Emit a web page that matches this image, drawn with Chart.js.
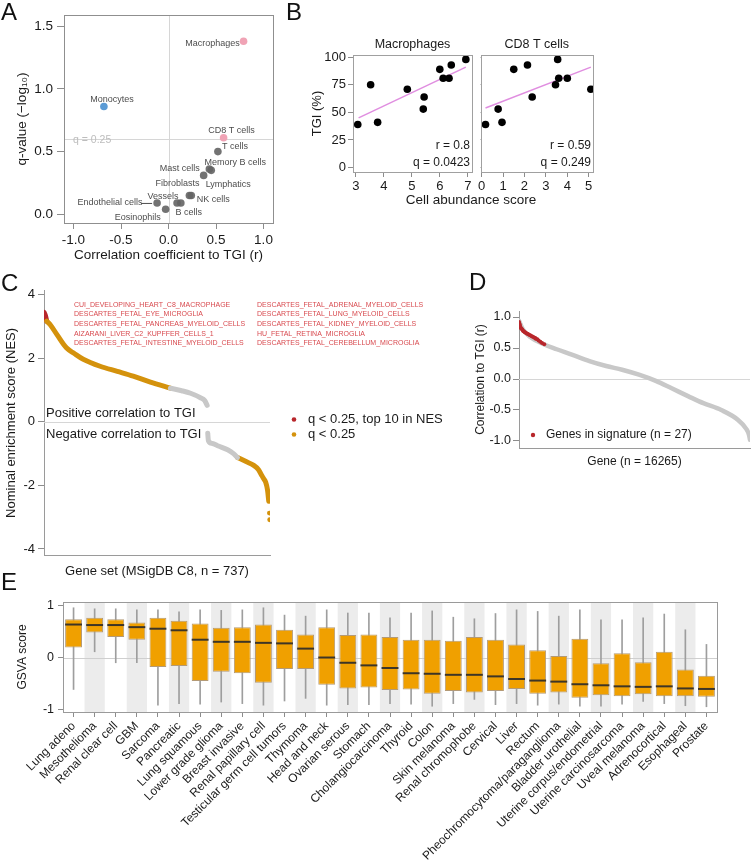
<!DOCTYPE html>
<html>
<head>
<meta charset="utf-8">
<script src="https://cdn.jsdelivr.net/npm/chart.js@4.4.0/dist/chart.umd.min.js"></script>
<style>
  body { margin: 0; background: #fff; font-family: "Liberation Sans", Arial, sans-serif; }
  #wrap { position: relative; width: 754px; height: 863px; overflow: hidden; background: #fff; }
  canvas { position: absolute; }
  .panel { position: absolute; font-size: 24px; line-height: 24px; color: #111; }
  .txt { position: absolute; font-size: 13.5px; color: #1a1a1a; white-space: nowrap; transform: translate(-50%, -50%); }
</style>
</head>
<body>
<div id="wrap">
  <canvas id="cA" style="left:0;top:0" width="285" height="265"></canvas>
  <canvas id="cB1" style="left:300px;top:25px" width="176" height="185"></canvas>
  <canvas id="cB2" style="left:476px;top:25px" width="125" height="185"></canvas>
  <canvas id="cC" style="left:0;top:280px" width="455" height="300"></canvas>
  <canvas id="cD" style="left:455px;top:290px" width="299" height="180"></canvas>
  <canvas id="cE" style="left:0;top:590px" width="754" height="273"></canvas>
  <div class="panel" style="left:1px;top:0px">A</div>
  <div class="panel" style="left:286px;top:0px">B</div>
  <div class="panel" style="left:1px;top:271px">C</div>
  <div class="panel" style="left:469px;top:270px">D</div>
  <div class="panel" style="left:1px;top:570px">E</div>
  <div class="txt" style="left:471px;top:199px">Cell abundance score</div>
</div>
<script>
// ---- A: cell types, correlation vs q-value
const cellTypes = ["Macrophages", "Monocytes", "CD8 T cells", "T cells", "Memory B cells", "Mast cells",
  "Lymphatics", "Fibroblasts", "NK cells", "Vessels", "B cells", "Endothelial cells", "Eosinophils"];
const cellR = [0.79, -0.68, 0.58, 0.52, 0.43, 0.37, 0.45, 0.22, 0.24, 0.09, 0.13, -0.12, -0.03];
const cellQ = [1.38, 0.86, 0.61, 0.50, 0.36, 0.31, 0.35, 0.15, 0.15, 0.09, 0.09, 0.09, 0.04];
const qCut = 0.602; // q = 0.25
const aXTicks = [-1, -0.5, 0, 0.5, 1];
const aYTicks = [0, 0.5, 1, 1.5];

// ---- B: TGI vs abundance
const macScore = [3.07, 3.53, 3.78, 4.84, 5.44, 5.41, 6.0, 6.12, 6.33, 6.41, 6.93];
const macTgi = [39, 75, 41, 71, 64, 53, 89, 81, 81, 93, 98];
const macFitX = [3.1, 6.93];
const macFitY = [45, 91];
const cd8Score = [0.18, 0.77, 0.95, 1.5, 2.14, 2.36, 3.45, 3.55, 3.6, 4.0, 5.1];
const cd8Tgi = [39, 53, 41, 89, 93, 64, 75, 98, 81, 81, 71];
const cd8FitX = [0.18, 5.1];
const cd8FitY = [54, 91];
const bYTicks = [0, 25, 50, 75, 100];
const macXTicks = [3, 4, 5, 6, 7];
const cd8XTicks = [0, 1, 2, 3, 4, 5];

// ---- C: NES of gene sets, [rank, NES]
const cTop10 = [[1, 3.45], [5, 3.36], [10, 3.17]];
const cPosSig = [[10, 3.17], [22, 3.05], [45, 2.72], [74, 2.33], [100, 2.15], [129, 1.97], [184, 1.75],
  [240, 1.59], [292, 1.44], [348, 1.25], [413, 1.06]];
const cPosNs = [[413, 1.06], [450, 0.98], [479, 0.9], [511, 0.76], [525, 0.67], [533, 0.52]];
const cNegNs = [[535, -0.36], [537, -0.59], [550, -0.68], [567, -0.75], [600, -0.88], [619, -1.0], [632, -1.12]];
const cNegSig = [[632, -1.12], [660, -1.25], [685, -1.37], [700, -1.5], [708, -1.63], [716, -1.77],
  [724, -1.9], [730, -2.15], [734, -2.5]];
const cNegTail = [[736, -2.87], [737, -3.08]];
const cTopSets = [
  "CUI_DEVELOPING_HEART_C8_MACROPHAGE", "DESCARTES_FETAL_EYE_MICROGLIA", "DESCARTES_FETAL_PANCREAS_MYELOID_CELLS",
  "AIZARANI_LIVER_C2_KUPFFER_CELLS_1", "DESCARTES_FETAL_INTESTINE_MYELOID_CELLS",
  "DESCARTES_FETAL_ADRENAL_MYELOID_CELLS", "DESCARTES_FETAL_LUNG_MYELOID_CELLS", "DESCARTES_FETAL_KIDNEY_MYELOID_CELLS",
  "HU_FETAL_RETINA_MICROGLIA", "DESCARTES_FETAL_CEREBELLUM_MICROGLIA"];
const cYTicks = [-4, -2, 0, 2, 4];

// ---- D: gene correlation to TGI, [rank, r]
const dCurve = [[1, 0.94], [280, 0.8], [770, 0.68], [1745, 0.56], [2653, 0.48], [3770, 0.39], [4957, 0.29],
  [6143, 0.21], [7260, 0.15], [8447, 0.07], [9633, -0.03], [10750, -0.15], [11936, -0.28], [12983, -0.39],
  [14240, -0.5], [15427, -0.66], [15985, -0.8], [16195, -0.9], [16265, -0.98]];
const dSignature = [[3, 0.92], [20, 0.9], [45, 0.88], [70, 0.86], [100, 0.84], [140, 0.82], [180, 0.81],
  [230, 0.8], [280, 0.78], [330, 0.77], [390, 0.76], [450, 0.75], [520, 0.74], [590, 0.73], [660, 0.72],
  [740, 0.71], [820, 0.7], [900, 0.69], [980, 0.68], [1060, 0.67], [1150, 0.66], [1180, 0.65], [1290, 0.64],
  [1380, 0.62], [1500, 0.6], [1620, 0.58], [1780, 0.56]];
const dYTicks = [-1, -0.5, 0, 0.5, 1];

// ---- E: GSVA score by cancer type
const eTypes = ["Lung adeno", "Mesothelioma", "Renal clear cell", "GBM", "Sarcoma", "Pancreatic", "Lung squamous",
  "Lower grade glioma", "Breast invasive", "Renal papillary cell", "Testicular germ cell tumors", "Thymoma",
  "Head and neck", "Ovarian serous", "Stomach", "Cholangiocarcinoma", "Thyroid", "Colon", "Skin melanoma",
  "Renal chromophobe", "Cervical", "Liver", "Rectum", "Pheochromocytoma/paraganglioma", "Bladder urothelial",
  "Uterine corpus/endometrial", "Uterine carcinosarcoma", "Uveal melanoma", "Adrenocortical", "Esophageal", "Prostate"];
const eWhiskHi = [0.95, 0.93, 0.93, 0.91, 0.91, 0.87, 0.91, 0.90, 0.91, 0.95, 0.81, 0.79, 0.91, 0.85, 0.85, 0.76,
  0.85, 0.89, 0.77, 0.74, 0.84, 0.91, 0.88, 0.79, 0.91, 0.72, 0.72, 0.76, 0.83, 0.53, 0.25];
const eQ3 = [0.73, 0.76, 0.73, 0.67, 0.76, 0.70, 0.65, 0.57, 0.58, 0.63, 0.53, 0.44, 0.58, 0.43, 0.44, 0.39,
  0.34, 0.34, 0.32, 0.39, 0.34, 0.25, 0.14, 0.03, 0.36, -0.11, 0.08, -0.09, 0.11, -0.23, -0.35];
const eMed = [0.63, 0.62, 0.62, 0.58, 0.55, 0.52, 0.34, 0.30, 0.30, 0.28, 0.27, 0.17, 0.00, -0.10, -0.15, -0.20,
  -0.30, -0.31, -0.33, -0.33, -0.36, -0.41, -0.44, -0.46, -0.51, -0.53, -0.55, -0.56, -0.55, -0.59, -0.60];
const eQ1 = [0.19, 0.48, 0.39, 0.34, -0.18, -0.16, -0.45, -0.27, -0.30, -0.48, -0.22, -0.22, -0.52, -0.59, -0.57,
  -0.62, -0.61, -0.69, -0.64, -0.67, -0.64, -0.60, -0.69, -0.67, -0.77, -0.72, -0.74, -0.70, -0.74, -0.74, -0.75];
const eWhiskLo = [-0.61, 0.11, -0.10, -0.10, -0.91, -0.88, -0.89, -0.85, -0.88, -0.91, -0.83, -0.78, -0.91, -0.90,
  -0.90, -0.88, -0.89, -0.93, -0.88, -0.80, -0.90, -0.88, -0.91, -0.89, -0.93, -0.93, -0.89, -0.84, -0.88, -0.92, -0.94];
const eYTicks = [-1, 0, 1];

Chart.defaults.font.family = "'Liberation Sans', Arial, sans-serif";
Chart.defaults.color = '#1a1a1a';
Chart.defaults.animation = false;
Chart.defaults.plugins.legend.display = false;
Chart.defaults.plugins.tooltip.enabled = false;

const GRID = '#8c8c8c';
const ORANGE = '#d4920c';
const RED = '#b8262b';
const LIGHT = '#c8c8c8';
const FONT = "'Liberation Sans', Arial";

const pairs = arr => arr.map(p => ({ x: p[0], y: p[1] }));
const setTicks = vals => s => { s.ticks = vals.map(v => ({ value: v })); };

function hline(ctx, x1, y1, x2, y2) {
  ctx.beginPath(); ctx.moveTo(x1, y1); ctx.lineTo(x2, y2); ctx.stroke();
}
function frame(chart, color) {
  const { ctx, chartArea: a } = chart;
  ctx.save();
  ctx.strokeStyle = color || '#999';
  ctx.lineWidth = 1;
  ctx.strokeRect(Math.round(a.left) + 0.5, Math.round(a.top) + 0.5, Math.round(a.width), Math.round(a.height));
  ctx.restore();
}

// ---------------- A ----------------
const aLabelOffset = [[-31, 2], [8, -7], [8, -7], [17, -5], [26, -7], [-24, -7], [17, 14], [-12, -12],
  [22, 4], [-14, -6], [8, 10], [-47, 0], [-28, 8]];

new Chart(document.getElementById('cA'), {
  type: 'scatter',
  data: {
    datasets: [{
      data: cellTypes.map((n, i) => ({ x: cellR[i], y: cellQ[i] })),
      pointRadius: 3.8,
      pointBorderWidth: 0,
      pointBackgroundColor: cellTypes.map((n, i) =>
        cellQ[i] > qCut ? (cellR[i] > 0 ? '#f0a3b5' : '#5b9bd5') : 'rgba(100,100,100,0.9)')
    }]
  },
  options: {
    responsive: false,
    layout: { padding: { left: 0, top: 15, right: 12, bottom: 0 } },
    scales: {
      x: {
        min: -1.1, max: 1.1,
        afterFit: s => { s.height = 42; },
        afterBuildTicks: setTicks(aXTicks),
        ticks: { callback: v => v.toFixed(1), font: { size: 13.5 }, padding: 3, maxRotation: 0 },
        grid: { drawOnChartArea: false, tickLength: 6, color: GRID },
        border: { display: false },
        title: { display: true, text: 'Correlation coefficient to TGI (r)', font: { size: 13.5 }, padding: { bottom: 2 } }
      },
      y: {
        min: -0.07, max: 1.59,
        afterFit: s => { s.width = 64; },
        afterBuildTicks: setTicks(aYTicks),
        ticks: { callback: v => v.toFixed(1), font: { size: 13.5 }, padding: 4 },
        grid: { drawOnChartArea: false, tickLength: 7, color: GRID },
        border: { display: false },
        title: { display: true, text: 'q-value (\u2212log\u2081\u2080)', font: { size: 13.5 }, padding: { top: 14 } }
      }
    }
  },
  plugins: [{
    id: 'aExtras',
    beforeDatasetsDraw(chart) {
      const { ctx, chartArea: a, scales: { x, y } } = chart;
      const x0 = x.getPixelForValue(0), yq = y.getPixelForValue(qCut);
      ctx.save();
      ctx.strokeStyle = '#d6d6d6'; ctx.lineWidth = 1;
      hline(ctx, Math.round(x0) + 0.5, a.top, Math.round(x0) + 0.5, a.bottom);
      hline(ctx, a.left, Math.round(yq) + 0.5, a.right, Math.round(yq) + 0.5);
      ctx.fillStyle = '#bdbdbd'; ctx.font = "10.5px " + FONT;
      ctx.textBaseline = 'middle';
      ctx.fillText('q = 0.25', a.left + 9, yq + 1);
      ctx.restore();
    },
    afterDatasetsDraw(chart) {
      const { ctx, scales: { x, y } } = chart;
      ctx.save();
      ctx.fillStyle = '#4d4d4d'; ctx.strokeStyle = '#4d4d4d'; ctx.lineWidth = 1;
      ctx.font = "9px " + FONT;
      ctx.textAlign = 'center'; ctx.textBaseline = 'middle';
      cellTypes.forEach((n, i) => {
        const px = x.getPixelForValue(cellR[i]), py = y.getPixelForValue(cellQ[i]);
        const [dx, dy] = aLabelOffset[i];
        ctx.fillText(n, px + dx, py + dy);
        if (n === 'Endothelial cells') hline(ctx, px + dx + 31, py + 0.5, px - 5, py + 0.5);
      });
      ctx.restore();
    },
    afterDraw(chart) { frame(chart, '#8f8f8f'); }
  }]
});

// ---------------- B ----------------
function makeB(id, scores, tgis, fitX, fitY, xMin, xMax, xTicks, title, rText, qText, first) {
  new Chart(document.getElementById(id), {
    type: 'scatter',
    data: {
      datasets: [
        { data: scores.map((s, i) => ({ x: s, y: tgis[i] })), pointRadius: 3.8, pointBorderWidth: 0,
          pointBackgroundColor: '#000', order: 1 },
        { data: fitX.map((s, i) => ({ x: s, y: fitY[i] })), showLine: true, pointRadius: 0,
          borderColor: '#e08ee0', borderWidth: 1.5, order: 2 }
      ]
    },
    options: {
      responsive: false,
      layout: { padding: { left: 0, top: 30, right: first ? 3 : 8, bottom: 0 } },
      scales: {
        x: {
          min: xMin, max: xMax,
          afterFit: s => { s.height = 38; },
          afterBuildTicks: setTicks(xTicks),
          ticks: { font: { size: 13 }, padding: 2, maxRotation: 0 },
          grid: { drawOnChartArea: false, tickLength: 5, color: GRID },
          border: { display: false }
        },
        y: {
          min: -4, max: 102,
          afterFit: s => { s.width = first ? 53 : 2; },
          afterBuildTicks: setTicks(bYTicks),
          ticks: { display: first, font: { size: 13 }, padding: 2 },
          grid: { drawOnChartArea: false, tickLength: first ? 5 : 0, color: GRID },
          border: { display: false },
          title: { display: first, text: 'TGI (%)', font: { size: 13 }, padding: { top: 10 } }
        }
      }
    },
    plugins: [{
      id: 'bExtras',
      afterDraw(chart) {
        const { ctx, chartArea: a } = chart;
        frame(chart, '#a0a0a0');
        ctx.save();
        ctx.fillStyle = '#1a1a1a';
        ctx.font = "12.5px " + FONT;
        ctx.textAlign = 'center'; ctx.textBaseline = 'middle';
        ctx.fillText(title, (a.left + a.right) / 2, a.top - 10);
        ctx.font = "12px " + FONT;
        ctx.textAlign = 'right';
        ctx.fillText(rText, a.right - 2, a.bottom - 26);
        ctx.fillText(qText, a.right - 2, a.bottom - 9);
        ctx.restore();
      }
    }]
  });
}
makeB('cB1', macScore, macTgi, macFitX, macFitY, 2.9, 7.15, macXTicks, 'Macrophages', 'r = 0.8', 'q = 0.0423', true);
makeB('cB2', cd8Score, cd8Tgi, cd8FitX, cd8FitY, -0.05, 5.2, cd8XTicks, 'CD8 T cells', 'r = 0.59', 'q = 0.249', false);

// ---------------- C ----------------
const curve = (arr, color, width) => ({
  data: pairs(arr), showLine: true, pointRadius: 0, borderColor: color, borderWidth: width,
  borderCapStyle: 'round', borderJoinStyle: 'round', cubicInterpolationMode: 'monotone'
});

new Chart(document.getElementById('cC'), {
  type: 'scatter',
  data: {
    datasets: [
      curve(cPosNs, LIGHT, 5), curve(cNegNs, LIGHT, 5),
      curve(cPosSig, ORANGE, 5), curve(cNegSig, ORANGE, 5),
      { data: pairs(cNegTail), pointRadius: 2.4, pointBorderWidth: 0, pointBackgroundColor: ORANGE },
      curve(cTop10, RED, 5)
    ]
  },
  options: {
    responsive: false,
    layout: { padding: { left: 0, top: 9, right: 185, bottom: 0 } },
    scales: {
      x: {
        min: 1, max: 738,
        afterFit: s => { s.height = 25; },
        ticks: { display: false },
        grid: { display: false },
        border: { display: true, color: '#9a9a9a' },
        title: { display: true, text: 'Gene set (MSigDB C8, n = 737)', font: { size: 13 }, padding: { bottom: 1 } }
      },
      y: {
        min: -4.19, max: 4.125,
        afterFit: s => { s.width = 44; },
        afterBuildTicks: setTicks(cYTicks),
        ticks: { font: { size: 13 }, padding: 3 },
        grid: { drawOnChartArea: false, tickLength: 6, color: GRID },
        border: { display: true, color: '#9a9a9a' },
        title: { display: true, text: 'Nominal enrichment score (NES)', font: { size: 13 }, padding: { top: 4 } }
      }
    }
  },
  plugins: [{
    id: 'cExtras',
    beforeDatasetsDraw(chart) {
      const { ctx, chartArea: a, scales: { y } } = chart;
      const y0 = Math.round(y.getPixelForValue(0)) + 0.5;
      ctx.save();
      ctx.strokeStyle = '#d6d6d6'; ctx.lineWidth = 1;
      hline(ctx, a.left, y0, a.right, y0);
      ctx.fillStyle = '#1a1a1a';
      ctx.font = "13px " + FONT;
      ctx.textBaseline = 'middle';
      ctx.fillText('Positive correlation to TGI', a.left + 2, y0 - 9);
      ctx.fillText('Negative correlation to TGI', a.left + 2, y0 + 12);
      // legend
      ctx.fillText('q < 0.25, top 10 in NES', a.right + 38, y0 - 3);
      ctx.fillText('q < 0.25', a.right + 38, y0 + 12);
      ctx.fillStyle = RED;
      ctx.beginPath(); ctx.arc(a.right + 24, y0 - 3, 2.3, 0, Math.PI * 2); ctx.fill();
      ctx.fillStyle = ORANGE;
      ctx.beginPath(); ctx.arc(a.right + 24, y0 + 12, 2.3, 0, Math.PI * 2); ctx.fill();
      // top gene set names
      ctx.fillStyle = '#d84a4f';
      ctx.font = "7px " + FONT;
      cTopSets.forEach((s, i) => {
        const col = i < 5 ? 0 : 1, row = i % 5;
        ctx.fillText(s, a.left + (col ? 213 : 30), a.top + 14 + row * 9.6);
      });
      ctx.restore();
    }
  }]
});

// ---------------- D ----------------
new Chart(document.getElementById('cD'), {
  type: 'scatter',
  data: {
    datasets: [
      { data: pairs(dSignature), pointRadius: 2, pointBorderWidth: 0, pointBackgroundColor: RED, order: 1 },
      Object.assign(curve(dCurve, LIGHT, 4.5), { order: 2 })
    ]
  },
  options: {
    responsive: false,
    layout: { padding: { left: 0, top: 21, right: 2, bottom: 0 } },
    scales: {
      x: {
        min: 1, max: 16265,
        afterFit: s => { s.height = 22; },
        ticks: { display: false },
        grid: { display: false },
        border: { display: true, color: '#9a9a9a' },
        title: { display: true, text: 'Gene (n = 16265)', font: { size: 12 }, padding: { bottom: 1 } }
      },
      y: {
        min: -1.113, max: 1.097,
        afterFit: s => { s.width = 64; },
        afterBuildTicks: setTicks(dYTicks),
        ticks: { callback: v => v.toFixed(1), font: { size: 12.5 }, padding: 2 },
        grid: { drawOnChartArea: false, tickLength: 6, color: GRID },
        border: { display: true, color: '#9a9a9a' },
        title: { display: true, text: 'Correlation to TGI (r)', font: { size: 12 }, padding: { top: 18 } }
      }
    }
  },
  plugins: [{
    id: 'dExtras',
    beforeDatasetsDraw(chart) {
      const { ctx, chartArea: a, scales: { y } } = chart;
      const y0 = Math.round(y.getPixelForValue(0)) + 0.5;
      ctx.save();
      ctx.strokeStyle = '#d6d6d6'; ctx.lineWidth = 1;
      hline(ctx, a.left, y0, a.right, y0);
      ctx.fillStyle = '#1a1a1a';
      ctx.font = "12px " + FONT;
      ctx.textBaseline = 'middle';
      ctx.fillText('Genes in signature (n = 27)', a.left + 27, a.bottom - 13);
      ctx.fillStyle = RED;
      ctx.beginPath(); ctx.arc(a.left + 14, a.bottom - 13, 2.2, 0, Math.PI * 2); ctx.fill();
      ctx.restore();
    }
  }]
});

// ---------------- E ----------------
new Chart(document.getElementById('cE'), {
  type: 'bar',
  data: {
    labels: eTypes,
    datasets: [
      { data: eTypes.map((t, i) => [eWhiskLo[i], eWhiskHi[i]]), backgroundColor: '#9e9e9e',
        barThickness: 1, grouped: false, order: 2 },
      { data: eTypes.map((t, i) => [eQ1[i], eQ3[i]]), backgroundColor: '#f0a000', borderColor: '#b49a76',
        borderWidth: 1, borderSkipped: false, barPercentage: 0.8, categoryPercentage: 1, grouped: false, order: 1 }
    ]
  },
  options: {
    responsive: false,
    layout: { padding: { left: 0, top: 12, right: 37, bottom: 0 } },
    scales: {
      x: {
        afterFit: s => { s.height = 151; },
        ticks: { autoSkip: false, minRotation: 45, maxRotation: 45, font: { size: 12 }, padding: 2, color: '#1a1a1a' },
        grid: { offset: false, drawOnChartArea: false, tickLength: 5, color: GRID },
        border: { display: false }
      },
      y: {
        min: -1.04, max: 1.06,
        afterFit: s => { s.width = 63; },
        afterBuildTicks: setTicks(eYTicks),
        ticks: { font: { size: 12.5 }, padding: 4 },
        grid: { drawOnChartArea: false, tickLength: 5, color: GRID },
        border: { display: false },
        title: { display: true, text: 'GSVA score', font: { size: 12 }, padding: { top: 15 } }
      }
    }
  },
  plugins: [{
    id: 'eExtras',
    beforeDatasetsDraw(chart) {
      const { ctx, chartArea: a, scales: { x, y } } = chart;
      const w = x.getPixelForValue(1) - x.getPixelForValue(0);
      ctx.save();
      ctx.fillStyle = '#ececec';
      eTypes.forEach((t, i) => {
        if (i % 2 === 1) {
          const cx = x.getPixelForValue(i);
          ctx.fillRect(cx - w * 0.48, a.top, w * 0.96, a.height);
        }
      });
      const y0 = Math.round(y.getPixelForValue(0)) + 0.5;
      ctx.strokeStyle = '#cfcfcf'; ctx.lineWidth = 1;
      hline(ctx, a.left, y0, a.right, y0);
      ctx.restore();
    },
    afterDatasetsDraw(chart) {
      const { ctx, scales: { y } } = chart;
      const meta = chart.getDatasetMeta(1);
      ctx.save();
      ctx.strokeStyle = '#3d3526'; ctx.lineWidth = 2;
      meta.data.forEach((bar, i) => {
        const py = y.getPixelForValue(eMed[i]);
        hline(ctx, bar.x - bar.width / 2, py, bar.x + bar.width / 2, py);
      });
      ctx.restore();
    },
    afterDraw(chart) { frame(chart, '#9a9a9a'); }
  }]
});
</script>
</body>
</html>
